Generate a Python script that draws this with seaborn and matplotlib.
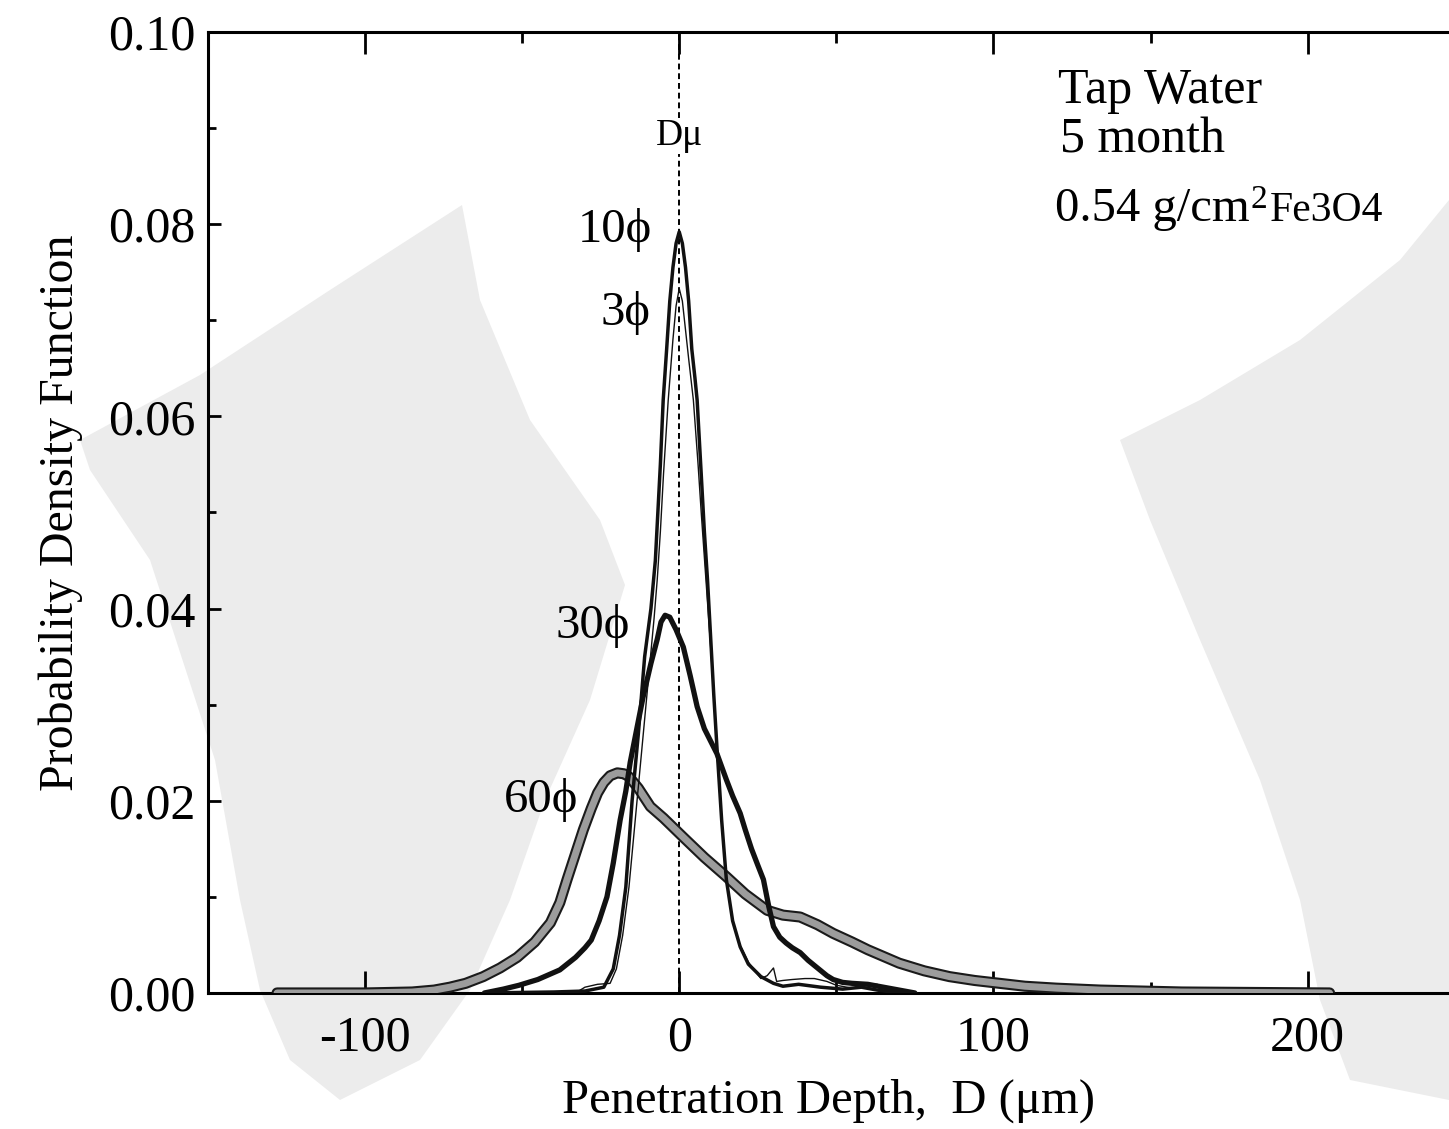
import numpy as np
import pandas as pd
import matplotlib
matplotlib.use("Agg")
import matplotlib.pyplot as plt
from matplotlib.patches import Polygon
from matplotlib.ticker import MultipleLocator
import seaborn as sns

# Penetration depth (um) relative to the mean depth, and probability density
depth_3 = [-40, -32, -30, -26, -22, -20, -18, -16, -14, -12, -10, -8, -7, -6, -5, -3.5,
           -2, -1, 0, 1, 2, 3, 4.5, 6, 7, 8.5, 10, 11, 12, 13.5, 15, 17, 19, 22, 26, 28,
           30, 31, 33, 36, 40, 43, 47, 50, 55, 60, 63, 66, 70]
pdf_3 = [0, 0.0002, 0.0006, 0.0009, 0.001, 0.0025, 0.006, 0.011, 0.018, 0.025, 0.032,
         0.039, 0.043, 0.048, 0.054, 0.0617, 0.068, 0.0715, 0.0733, 0.072, 0.069, 0.066,
         0.0617, 0.055, 0.050, 0.043, 0.036, 0.031, 0.025, 0.018, 0.012, 0.0075, 0.0052,
         0.0032, 0.0015, 0.0018, 0.0026, 0.0012, 0.0013, 0.0014, 0.0015, 0.0015, 0.0012,
         0.0008, 0.0005, 0.0009, 0.0009, 0.0004, 0]

depth_10 = [-62, -40, -30, -24, -21, -19, -17, -15, -13, -11, -9, -7.6, -6, -5.1, -4, -3,
            -2, -1, 0, 1, 2, 3, 4, 5, 5.7, 7, 8, 9, 10, 11, 12, 13.5, 15, 17, 19.4, 22, 26,
            30, 33, 38, 45, 52, 58, 63, 70]
pdf_10 = [0, 0.0001, 0.0002, 0.0006, 0.0025, 0.006, 0.011, 0.020, 0.027, 0.035, 0.040,
          0.045, 0.055, 0.0617, 0.067, 0.072, 0.0755, 0.078, 0.0792, 0.078, 0.0755, 0.072,
          0.067, 0.064, 0.0617, 0.054, 0.048, 0.043, 0.037, 0.031, 0.0256, 0.018, 0.0118,
          0.0075, 0.0048, 0.003, 0.0017, 0.001, 0.0007, 0.0009, 0.0006, 0.0004, 0.0006,
          0.0003, 0]

depth_30 = [-62, -56, -51, -45, -38, -33, -30, -28, -25.5, -23, -21, -18.8, -17, -15.6,
            -13.5, -11.5, -9, -7, -5.8, -4.5, -3, -1, 1.3, 3.5, 5.7, 8, 10, 12, 15, 17,
            19.4, 21, 23, 25, 26.8, 28.5, 30, 32, 34, 36, 38.5, 41, 44, 47, 49, 52, 55,
            60, 65, 70, 75]
pdf_30 = [0, 0.0004, 0.0008, 0.0014, 0.0024, 0.0037, 0.0047, 0.0055, 0.0075, 0.010,
          0.0135, 0.018, 0.021, 0.024, 0.0275, 0.0308, 0.0343, 0.0368, 0.0386, 0.0393,
          0.0391, 0.0378, 0.036, 0.033, 0.0298, 0.0275, 0.0262, 0.0249, 0.0222, 0.0205,
          0.0187, 0.017, 0.015, 0.0133, 0.0118, 0.009, 0.0069, 0.0058, 0.0052, 0.0047,
          0.0042, 0.0034, 0.0026, 0.0018, 0.0014, 0.0011, 0.0010, 0.0009, 0.0006, 0.0003, 0]

depth_60 = [-128, -100, -85, -78, -73, -68, -62.4, -57, -51.6, -46, -41, -38, -35.7, -33,
            -30.5, -28, -26, -24, -22, -19.7, -17.5, -16, -13, -9.2, -5, 1.3, 8, 15, 21,
            28, 33, 38.5, 44, 49, 55, 60, 65, 70, 78, 86, 94, 102, 110, 120, 134, 160, 207]
pdf_60 = [0, 0, 0.0001, 0.0003, 0.0006, 0.001, 0.0017, 0.0026, 0.0037, 0.0053, 0.0073,
          0.0094, 0.0118, 0.0145, 0.017, 0.0192, 0.0208, 0.0219, 0.0226, 0.0229, 0.0228,
          0.0225, 0.0213, 0.0194, 0.0182, 0.0162, 0.0141, 0.0121, 0.0103, 0.0086, 0.0081,
          0.0079, 0.0071, 0.0062, 0.0053, 0.0045, 0.0038, 0.0031, 0.0023, 0.0017, 0.0013,
          0.0010, 0.0007, 0.0005, 0.0003, 0.0001, 0]

curve_labels = ["3\u03d5", "10\u03d5", "30\u03d5", "60\u03d5"]
note_lines = ["Tap Water", "5 month", "0.54 g/cm", "2", "Fe3O4"]

sns.set_theme(style="ticks")
serif = ["Liberation Serif", "DejaVu Serif"]
plt.rcParams["font.family"] = serif
plt.rcParams["axes.unicode_minus"] = False
for key in ["text.color", "axes.labelcolor", "xtick.color", "ytick.color",
            "xtick.labelcolor", "ytick.labelcolor"]:
    plt.rcParams[key] = "black"

W, H = 1449, 1129
fig = plt.figure(figsize=(W / 100, H / 100), dpi=100)
ax = fig.add_axes([0.1435, 0.1205, 0.8565, 0.8512])
ax.patch.set_alpha(0)

# faint scanner shading behind the plot
shade_left = [(462, 205), (480, 300), (530, 420), (600, 520), (625, 585), (590, 700),
              (545, 800), (510, 900), (470, 990), (420, 1060), (340, 1100), (290, 1060),
              (260, 990), (240, 900), (215, 760), (150, 560), (90, 470), (80, 440),
              (200, 375), (330, 290)]
shade_right = [(1449, 200), (1400, 260), (1300, 340), (1200, 400), (1120, 440),
               (1150, 520), (1200, 640), (1260, 780), (1300, 900), (1320, 1000),
               (1350, 1080), (1449, 1100)]
for poly in (shade_left, shade_right):
    pts = [(px / W, 1 - py / H) for px, py in poly]
    fig.patches.append(Polygon(pts, closed=True, transform=fig.transFigure,
                               facecolor="#ececec", edgecolor="none", zorder=-10))


def draw(x, y, **kw):
    df = pd.DataFrame({"D": x, "pdf": y})
    sns.lineplot(data=df, x="D", y="pdf", ax=ax, sort=False, estimator=None,
                 solid_joinstyle="round", solid_capstyle="round", **kw)


# 60 phi: broad grey band with a dark rim
draw(depth_60, pdf_60, color="#1a1a1a", lw=8.0, zorder=3)
draw(depth_60, pdf_60, color="#9c9c9c", lw=5.0, zorder=3.1)
draw(depth_30, pdf_30, color="#111111", lw=3.8, zorder=4)
draw(depth_10, pdf_10, color="#111111", lw=2.5, zorder=5)
draw(depth_3, pdf_3, color="#111111", lw=1.0, zorder=6)

# mean penetration depth marker
ax.axvline(0, color="black", lw=1.4, ls=(0, (3, 2)), zorder=2)
ax.text(0, 0.0882, "D\u03bc", fontsize=27, ha="center", va="baseline", zorder=7,
        bbox=dict(facecolor="white", edgecolor="none", pad=0.5))

fs = 35
ax.text(-8.6, 0.0781, curve_labels[1], fontsize=fs, ha="right", va="baseline")
ax.text(-9.2, 0.0695, curve_labels[0], fontsize=fs, ha="right", va="baseline")
ax.text(-15.6, 0.0369, curve_labels[2], fontsize=fs, ha="right", va="baseline")
ax.text(-32, 0.0188, curve_labels[3], fontsize=fs, ha="right", va="baseline")

ax.set_xlim(-150, 245)
ax.set_ylim(0, 0.10)
ax.xaxis.set_major_locator(MultipleLocator(100))
ax.xaxis.set_minor_locator(MultipleLocator(50))
ax.yaxis.set_major_locator(MultipleLocator(0.02))
ax.yaxis.set_minor_locator(MultipleLocator(0.01))
ax.yaxis.set_major_formatter(plt.FuncFormatter(lambda v, p: f"{v:.2f}"))

ax.tick_params(axis="both", which="both", direction="in", colors="black",
               labelsize=36, width=2)
ax.tick_params(axis="x", which="major", length=16, pad=16, top=True)
ax.tick_params(axis="x", which="minor", length=8, top=True)
ax.tick_params(axis="y", which="major", length=9, pad=9)
ax.tick_params(axis="y", which="minor", length=6)

for side in ["left", "bottom", "top"]:
    ax.spines[side].set_linewidth(2.2)
    ax.spines[side].set_color("black")
ax.spines["right"].set_visible(False)

ax.set_xlabel("Penetration Depth,  D (\u03bcm)", fontsize=35, labelpad=12)
ax.set_ylabel("Probability Density Function", fontsize=34.5, labelpad=18)

# sample description in the upper right (placed once the limits are fixed)
ax.text(120.4, 0.0926, note_lines[0], fontsize=36, ha="left", va="baseline")
ax.text(121.2, 0.0875, note_lines[1], fontsize=36, ha="left", va="baseline")
conc_x, conc_y = 119.5, 0.0803
t_conc = ax.text(conc_x, conc_y, note_lines[2], fontsize=35, ha="left", va="baseline")
fig.canvas.draw()
renderer = fig.canvas.get_renderer()
right_px = t_conc.get_window_extent(renderer).x1
base_px = ax.transData.transform((conc_x, conc_y))[1]
to_data = ax.transData.inverted()
sx, sy = to_data.transform((right_px + 1, base_px + 13))
t_sup = ax.text(sx, sy, note_lines[3], fontsize=24, ha="left", va="baseline")
sup_right = t_sup.get_window_extent(renderer).x1
fx, fy = to_data.transform((sup_right + 3, base_px))
ax.text(fx, fy, note_lines[4], fontsize=30, ha="left", va="baseline")

fig.savefig("out.png", dpi=100)
